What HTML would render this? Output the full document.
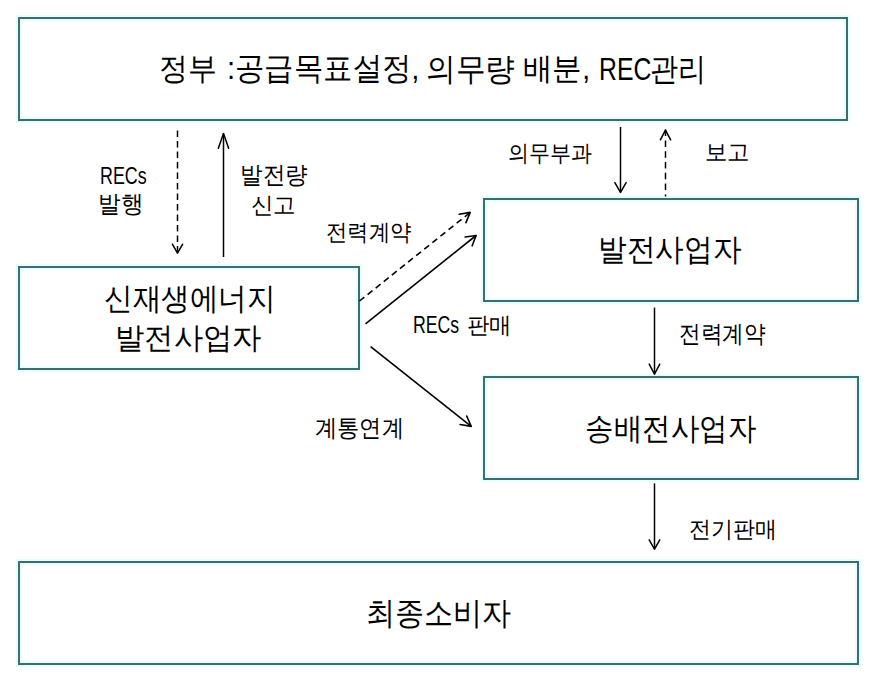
<!DOCTYPE html>
<html><head><meta charset="utf-8"><style>
html,body{margin:0;padding:0;background:#fff;}
body{width:876px;height:680px;position:relative;overflow:hidden;font-family:"Liberation Sans",sans-serif;color:#000;}
.b{position:absolute;box-sizing:border-box;border:2px solid #3f6d6d;box-shadow:0 0 0 2px rgba(190,255,255,0.4),inset 0 0 0 2px rgba(190,255,255,0.4);}
.t{position:absolute;line-height:1;white-space:nowrap;transform-origin:0 0;}
</style></head><body>
<div class="b" style="left:18px;top:17px;width:830px;height:104px"></div>
<div class="b" style="left:18px;top:266px;width:342px;height:104px"></div>
<div class="b" style="left:483px;top:198px;width:376px;height:104px"></div>
<div class="b" style="left:483px;top:376px;width:376px;height:104px"></div>
<div class="b" style="left:18px;top:561px;width:841px;height:104px"></div>
<svg width="876" height="680" style="position:absolute;left:0;top:0"><path d="M177.50,130.50 L177.50,253.20" stroke="#000" stroke-width="1.5" fill="none" stroke-dasharray="6.5 4"/><path d="M172.35,244.20 L177.50,253.20 L182.65,244.20" stroke="#000" stroke-width="1.5" fill="none" stroke-linejoin="round" stroke-linecap="round"/><path d="M223.50,257.00 L223.50,133.60" stroke="#000" stroke-width="1.5" fill="none"/><path d="M228.65,148.20 L223.50,133.60 L218.35,148.20" stroke="#000" stroke-width="1.5" fill="none" stroke-linejoin="round" stroke-linecap="round"/><path d="M620.50,127.00 L620.50,192.40" stroke="#000" stroke-width="1.5" fill="none"/><path d="M614.85,182.60 L620.50,192.40 L626.15,182.60" stroke="#000" stroke-width="1.5" fill="none" stroke-linejoin="round" stroke-linecap="round"/><path d="M665.50,129.60 L665.50,196.50" stroke="#000" stroke-width="1.5" fill="none" stroke-dasharray="6.5 4.3"/><path d="M670.65,139.80 L665.50,130.10 L660.35,139.80" stroke="#000" stroke-width="1.5" fill="none" stroke-linejoin="round" stroke-linecap="round"/><path d="M359.50,301.00 L470.20,212.40" stroke="#000" stroke-width="1.6" fill="none" stroke-dasharray="6.2 4.17"/><path d="M465.97,222.64 L470.20,212.40 L459.28,214.28" stroke="#000" stroke-width="1.6" fill="none" stroke-linejoin="round" stroke-linecap="round"/><path d="M365.50,323.80 L476.10,235.50" stroke="#000" stroke-width="1.6" fill="none"/><path d="M472.17,245.80 L476.10,235.50 L465.18,237.05" stroke="#000" stroke-width="1.6" fill="none" stroke-linejoin="round" stroke-linecap="round"/><path d="M370.60,346.70 L471.20,426.40" stroke="#000" stroke-width="1.6" fill="none"/><path d="M460.12,424.45 L471.20,426.40 L466.76,416.06" stroke="#000" stroke-width="1.6" fill="none" stroke-linejoin="round" stroke-linecap="round"/><path d="M654.50,307.60 L654.50,374.10" stroke="#000" stroke-width="1.5" fill="none"/><path d="M649.20,364.10 L654.50,374.10 L659.80,364.10" stroke="#000" stroke-width="1.5" fill="none" stroke-linejoin="round" stroke-linecap="round"/><path d="M654.50,483.30 L654.50,549.20" stroke="#000" stroke-width="1.5" fill="none"/><path d="M649.20,539.80 L654.50,549.20 L659.80,539.80" stroke="#000" stroke-width="1.5" fill="none" stroke-linejoin="round" stroke-linecap="round"/></svg>
<span class="t" style="left:158.50px;top:53.29px;font-size:31.37px;transform:scaleX(0.9326)">정부</span>
<span class="t" style="left:227.41px;top:53.04px;font-size:31.95px;transform:scaleX(0.9172)">:공급목표설정,</span>
<span class="t" style="left:426.03px;top:53.71px;font-size:31.51px;transform:scaleX(0.9264)">의무량</span>
<span class="t" style="left:522.60px;top:53.29px;font-size:31.37px;transform:scaleX(0.9512)">배분,</span>
<span class="t" style="left:599.02px;top:53.71px;font-size:30.99px;transform:scaleX(0.8002)">REC</span>
<span class="t" style="left:650.11px;top:52.59px;font-size:32.13px;transform:scaleX(0.8779)">관리</span>
<span class="t" style="left:99.57px;top:163.75px;font-size:23.84px;transform:scaleX(0.7491)">RECs</span>
<span class="t" style="left:97.77px;top:192.16px;font-size:24.38px;transform:scaleX(0.9421)">발행</span>
<span class="t" style="left:240.22px;top:163.08px;font-size:23.96px;transform:scaleX(0.9381)">발전량</span>
<span class="t" style="left:250.75px;top:193.95px;font-size:23.43px;transform:scaleX(0.9768)">신고</span>
<span class="t" style="left:326.35px;top:221.35px;font-size:23.14px;transform:scaleX(0.9298)">전력계약</span>
<span class="t" style="left:103.58px;top:283.05px;font-size:31.23px;transform:scaleX(0.9220)">신재생에너지</span>
<span class="t" style="left:115.29px;top:323.36px;font-size:29.80px;transform:scaleX(0.9790)">발전사업자</span>
<span class="t" style="left:412.57px;top:313.00px;font-size:24.36px;transform:scaleX(0.7265)">RECs</span>
<span class="t" style="left:466.73px;top:313.63px;font-size:22.71px;transform:scaleX(0.9755)">판매</span>
<span class="t" style="left:315.35px;top:415.73px;font-size:24.10px;transform:scaleX(0.9268)">계통연계</span>
<span class="t" style="left:507.54px;top:141.96px;font-size:22.74px;transform:scaleX(0.9123)">의무부과</span>
<span class="t" style="left:705.23px;top:140.86px;font-size:23.34px;transform:scaleX(0.9724)">보고</span>
<span class="t" style="left:597.70px;top:233.66px;font-size:31.44px;transform:scaleX(0.9253)">발전사업자</span>
<span class="t" style="left:679.41px;top:322.02px;font-size:23.78px;transform:scaleX(0.9023)">전력계약</span>
<span class="t" style="left:584.97px;top:412.84px;font-size:31.41px;transform:scaleX(0.9202)">송배전사업자</span>
<span class="t" style="left:689.25px;top:517.66px;font-size:23.11px;transform:scaleX(0.9588)">전기판매</span>
<span class="t" style="left:365.61px;top:597.25px;font-size:32.16px;transform:scaleX(0.9096)">최종소비자</span>
</body></html>
